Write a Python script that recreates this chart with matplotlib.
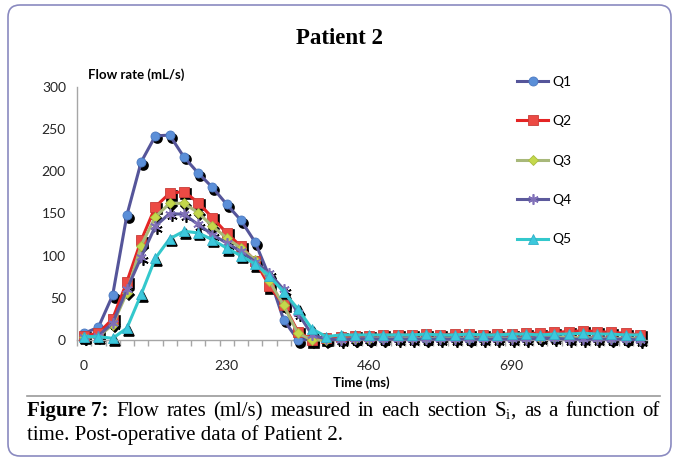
import matplotlib
matplotlib.use("Agg")
import matplotlib.pyplot as plt
import matplotlib.transforms as mtransforms
from matplotlib.patches import FancyBboxPatch
from matplotlib.lines import Line2D

# sample times (ms), one every 23 ms
time_ms = [0, 23, 46, 69, 92, 115, 138, 161, 184, 207,
           230, 253, 276, 299, 322, 345, 368, 391, 414, 437,
           460, 483, 506, 529, 552, 575, 598, 621, 644, 667,
           690, 713, 736, 759, 782, 805, 828, 851, 874, 897]

q1 = [8, 15, 53, 148, 211, 242, 243, 217, 198, 181, 161, 142, 116, 75, 24, 0,
      1, 1, 2, 2, 2, 2, 3, 3, 2, 3, 3, 2, 3, 3, 3, 4, 4, 4, 3, 3, 3, 2, 2, 2]
q2 = [5, 8, 25, 69, 118, 158, 174, 176, 163, 145, 127, 111, 94, 64, 42, 10,
      0, 2, 4, 5, 5, 6, 6, 6, 7, 6, 7, 7, 6, 7, 7, 8, 8, 9, 10, 11, 10, 9, 8, 6]
q3 = [3, 4, 18, 56, 112, 146, 162, 162, 151, 135, 121, 109, 95, 70, 41, 8,
      0, 0, 1, 1, 1, 2, 2, 2, 2, 2, 2, 2, 2, 2, 2, 2, 2, 3, 3, 3, 2, 2, 2, 1]
q4 = [3, 5, 20, 60, 98, 135, 150, 149, 137, 125, 115, 105, 93, 79, 60, 32,
      6, 1, 0, 1, 1, 1, 1, 1, 1, 1, 1, 1, 1, 1, 1, 1, 2, 2, 1, 1, 1, 1, 1, 0]
q5 = [4, 4, 2, 14, 54, 97, 120, 129, 127, 119, 109, 100, 90, 76, 57, 37,
      13, 4, 6, 6, 6, 6, 6, 6, 7, 6, 6, 7, 6, 6, 7, 7, 6, 7, 7, 8, 7, 7, 6, 6]

labels = ["Q1", "Q2", "Q3", "Q4", "Q5"]
x_ticks = [0, 230, 460, 690]
y_ticks = [0, 50, 100, 150, 200, 250, 300]

W, H = 678, 458
SANS = "Lato"
SERIF = "Liberation Serif"
plt.rcParams["mathtext.fontset"] = "custom"
plt.rcParams["mathtext.rm"] = SERIF

fig = plt.figure(figsize=(W / 100, H / 100), dpi=100)
fig.patch.set_facecolor("white")
ax = fig.add_axes([77 / W, 1 - 340 / H, 570 / W, 253 / H])

styles = [
    # line colour, marker, size, face, edge
    ("#55559a", "o", 6.5, "#5b8fd8", "#4a78c0"),
    ("#e42424", "s", 6.5, "#ec4a44", "#c83c38"),
    ("#a8b87a", "D", 5.0, "#c4d84c", "#a8bc40"),
    ("#5c5a9c", (6, 2, 0), 7.5, "#8070b8", "#8070b8"),
    ("#33c8cc", "^", 7.0, "#3cc8dc", "#30b0c8"),
]

shadow = mtransforms.offset_copy(ax.transData, fig=fig, x=2, y=-2.5, units="dots")
for k, (vals, lab, st) in enumerate(zip([q1, q2, q3, q4, q5], labels, styles)):
    lc, mk, ms, mf, me = st
    ax.plot(time_ms, vals, ls="none", marker=mk, ms=ms, color="black",
            mew=1.2, transform=shadow, zorder=2, clip_on=False)
    ax.plot(time_ms, vals, color=lc, lw=2.2, marker=mk, ms=ms, mfc=mf, mec=me,
            mew=1.2 if mk == (6, 2, 0) else 0.6, label=lab, zorder=3 + k,
            clip_on=False)

ax.set_xlim(-11.5, 908.5)
ax.set_ylim(0, 300)
ax.set_xticks(x_ticks)
ax.set_xticklabels([str(v) for v in x_ticks])
ax.set_xticks([-11.5 + 23 * k for k in range(41)], minor=True)
ax.set_yticks(y_ticks)
ax.tick_params(axis="x", which="major", length=0, pad=14.5)
ax.tick_params(axis="x", which="minor", length=4, color="#a6a6a6", width=1)
ax.tick_params(axis="y", length=0, pad=8)
for lab in ax.get_xticklabels() + ax.get_yticklabels():
    lab.set_fontfamily(SANS)
    lab.set_fontsize(10)
    lab.set_color("#262626")
for side in ["top", "right"]:
    ax.spines[side].set_visible(False)
for side in ["left", "bottom"]:
    ax.spines[side].set_color("#a6a6a6")
    ax.spines[side].set_linewidth(1.0)

leg = ax.legend(loc="upper left", bbox_to_anchor=(517 / W, 1 - 76 / H),
                bbox_transform=fig.transFigure, frameon=False, borderpad=0,
                borderaxespad=0, handlelength=2.25, handletextpad=0.3,
                labelspacing=1.97, prop={"family": SANS, "size": 10})

fig.text(339 / W, 1 - 38 / H, "Patient 2", ha="center", va="center",
         family=SERIF, weight="bold", fontsize=16.5)
fig.text(88 / W, 1 - 75 / H, "Flow rate (mL/s)", ha="left", va="center",
         family=SANS, weight="bold", fontsize=9.5)
fig.text(361 / W, 1 - 383 / H, "Time (ms)", ha="center", va="center",
         family=SANS, weight="bold", fontsize=9.5)

# frame and separator
fig.add_artist(FancyBboxPatch((8, 2), 663, 451,
                              boxstyle="round,pad=0,rounding_size=12",
                              fc="none", ec="#8a8ac0", lw=1.2,
                              transform=mtransforms.IdentityTransform()))
fig.add_artist(Line2D([27 / W, 660 / W], [1 - 396 / H, 1 - 396 / H],
                      color="#9a9a9a", lw=1.2))

# caption, first line justified
cap_size = 15
words = [("Figure 7:", "bold"), ("Flow", "normal"), ("rates", "normal"),
         ("(ml/s)", "normal"), ("measured", "normal"), ("in", "normal"),
         ("each", "normal"), ("section", "normal"),
         (r"$\mathregular{S_i}$,", "normal"), ("as", "normal"),
         ("a", "normal"), ("function", "normal"), ("of", "normal")]
texts = [fig.text(0, 1 - 416 / H, w, family=SERIF, weight=wt, fontsize=cap_size,
                  va="baseline", ha="left") for w, wt in words]
renderer = fig.canvas.get_renderer()
widths = [t.get_window_extent(renderer).width for t in texts]
gap = (660 - 27 - sum(widths)) / (len(texts) - 1)
xpos = 27
for t, w in zip(texts, widths):
    t.set_x(xpos / W)
    xpos += w + gap
fig.text(27 / W, 1 - 440 / H, "time. Post-operative data of Patient 2.",
         family=SERIF, fontsize=cap_size, va="baseline", ha="left")

fig.savefig("out.png", dpi=100, facecolor="white")
